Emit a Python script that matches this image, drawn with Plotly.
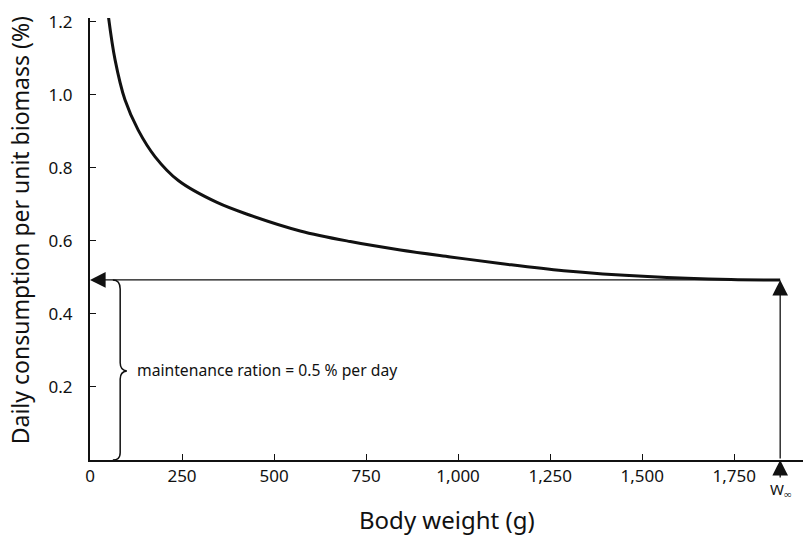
import plotly.graph_objects as go

# curve (body weight in g, daily ration in % of biomass)
weight_g = [49, 68, 95, 131, 177, 240, 345, 435, 571, 707, 843, 979, 1115, 1287, 1515, 1741, 1875]
consumption = [1.222, 1.096, 0.986, 0.903, 0.830, 0.765, 0.705, 0.670, 0.627, 0.598, 0.575,
               0.556, 0.538, 0.518, 0.502, 0.494, 0.493]

x_ticks = [0, 250, 500, 750, 1000, 1250, 1500, 1750]
x_ticktext = ["0", "250", "500", "750", "1,000", "1,250", "1,500", "1,750"]
y_ticks = [0.2, 0.4, 0.6, 0.8, 1.0, 1.2]
y_ticktext = ["0.2", "0.4", "0.6", "0.8", "1.0", "1.2"]

maintenance = 0.493
w_inf = 1875

FONT = "Noto Sans"
INK = "#111111"

fig = go.Figure()
fig.add_trace(go.Scatter(
    x=weight_g, y=consumption, mode="lines",
    line=dict(color=INK, width=3, shape="spline", smoothing=1.0),
    showlegend=False, hoverinfo="skip",
))

# curly brace marking the maintenance ration
bx, hook, tip = 82, 62, 100
mid = maintenance / 2
brace = (f"M {hook},{maintenance} Q {bx},{maintenance} {bx},{maintenance - 0.025} "
         f"L {bx},{mid + 0.02} Q {bx},{mid} {tip},{mid - 0.003} "
         f"Q {bx},{mid - 0.005} {bx},{mid - 0.025} "
         f"L {bx},0.02 Q {bx},0 {hook},0")
fig.add_shape(type="path", path=brace, xref="x", yref="y",
              line=dict(color=INK, width=1.5))

annotations = [
    # horizontal arrow to the y axis
    dict(x=0, y=maintenance, ax=w_inf, ay=maintenance, axref="x", ayref="y",
         xref="x", yref="y", showarrow=True, arrowhead=2, arrowsize=2.4,
         arrowwidth=1.3, arrowcolor=INK, text=""),
    # vertical arrow up from W_inf
    dict(x=w_inf, y=maintenance, ax=w_inf, ay=0, axref="x", ayref="y",
         xref="x", yref="y", showarrow=True, arrowhead=2, arrowsize=2.4,
         arrowwidth=1.3, arrowcolor=INK, text=""),
    # W_inf marker below the axis
    dict(x=w_inf, y=0, xref="x", yref="y", ax=0, ay=30, showarrow=True,
         arrowhead=2, arrowsize=2.4, arrowwidth=1.3, arrowcolor=INK,
         text="W<sub>∞</sub>", font=dict(family=FONT, size=15, color=INK)),
    dict(x=122, y=mid, xref="x", yref="y", showarrow=False, xanchor="left",
         text="maintenance ration = 0.5 % per day",
         font=dict(family=FONT, size=15.7, color=INK)),
    dict(x=-0.098, y=0.52, xref="paper", yref="paper", showarrow=False,
         xanchor="center", yanchor="middle",
         textangle=-90, text="Daily consumption per unit biomass (%)",
         font=dict(family=FONT, size=23, color=INK)),
    dict(x=0.5, y=-0.1335, xref="paper", yref="paper", showarrow=False,
         xanchor="center", yanchor="middle",
         text="Body weight (g)", font=dict(family=FONT, size=24, color=INK)),
]

fig.update_layout(
    width=803, height=537,
    margin=dict(l=90, r=0, t=18, b=77),
    paper_bgcolor="white", plot_bgcolor="white",
    annotations=annotations,
    font=dict(family=FONT, color=INK, size=17),
)
fig.update_xaxes(
    range=[0, 1937], tickvals=x_ticks, ticktext=x_ticktext,
    ticks="inside", ticklen=6, tickwidth=1.3, tickcolor=INK,
    showline=True, linecolor=INK, linewidth=1.5,
    showgrid=False, zeroline=False, ticklabelstandoff=0,
)
fig.update_yaxes(
    range=[0, 1.21], tickvals=y_ticks, ticktext=y_ticktext,
    ticks="inside", ticklen=6, tickwidth=1.3, tickcolor=INK,
    showline=True, linecolor=INK, linewidth=2,
    showgrid=False, zeroline=False, ticklabelstandoff=12,
)

# drop the default 8px body margin so the figure fills the window exactly
fig.write_html("out.html", config={"displayModeBar": False},
               post_script="document.body.style.margin = '0';")
